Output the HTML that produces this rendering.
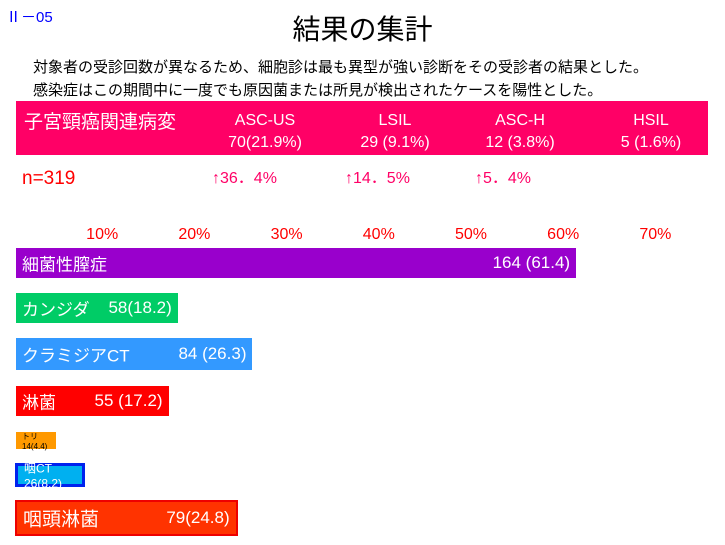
<!DOCTYPE html>
<html><head><meta charset="utf-8"><style>
body{margin:0;width:725px;height:545px;background:#fff;position:relative;overflow:hidden;font-family:"Liberation Sans","Noto Sans CJK JP",sans-serif}
.a{position:absolute;white-space:nowrap}
.bar{position:absolute;box-sizing:border-box;color:#fff}
.bar span{position:absolute;top:50%;transform:translateY(-50%)}
</style></head><body>
<div class="a" style="left:6px;top:6px;color:#0000ff;font-size:15px">Ⅱ－05</div>
<div class="a" style="left:0;width:725px;text-align:center;top:8px;font-size:28px;color:#000">結果の集計</div>
<div class="a" style="left:33px;top:56px;font-size:15px;color:#000">対象者の受診回数が異なるため、細胞診は最も異型が強い診断をその受診者の結果とした。</div>
<div class="a" style="left:33px;top:79px;font-size:15px;color:#000">感染症はこの期間中に一度でも原因菌または所見が検出されたケースを陽性とした。</div>
<div class="a" style="left:16px;top:101px;width:692px;height:54px;background:#ff0066"></div>
<div class="a" style="left:24px;top:107px;font-size:19px;color:#fff">子宮頸癌関連病変</div>
<div class="a" style="left:210px;width:110px;text-align:center;top:110px;font-size:16px;line-height:22px;color:#fff">ASC-US<br>70(21.9%)</div>
<div class="a" style="left:340px;width:110px;text-align:center;top:110px;font-size:16px;line-height:22px;color:#fff">LSIL<br>29 (9.1%)</div>
<div class="a" style="left:465px;width:110px;text-align:center;top:110px;font-size:16px;line-height:22px;color:#fff">ASC-H<br>12 (3.8%)</div>
<div class="a" style="left:596px;width:110px;text-align:center;top:110px;font-size:16px;line-height:22px;color:#fff">HSIL<br>5 (1.6%)</div>
<div class="a" style="left:22px;top:168px;font-size:19px;color:#ff0000">n=319</div>
<div class="a" style="left:212px;top:164px;font-size:16px;color:#ff0066">↑36．4%</div>
<div class="a" style="left:345px;top:164px;font-size:16px;color:#ff0066">↑14．5%</div>
<div class="a" style="left:475px;top:164px;font-size:16px;color:#ff0066">↑5．4%</div>
<div id="chart"></div>
<script>
const categories=["細菌性膣症","カンジダ","クラミジアCT","淋菌","トリ","咽CT","咽頭淋菌"];
const counts=[164,58,84,55,14,26,79];
const percents=[61.4,18.2,26.3,17.2,4.4,8.2,24.8];
const labels=["164 (61.4)","58(18.2)","84 (26.3)","55 (17.2)","14(4.4)","26(8.2)","79(24.8)"];
const tickValues=[10,20,30,40,50,60,70];
const tickLabels=["10%","20%","30%","40%","50%","60%","70%"];
const colors=["#9900cc","#00cc66","#3399ff","#ff0000","#ff9900","#00b0f0","#ff3300"];
const tops=[248,293,338,386,432,463,500],heights=[30,30,32,30,17,24,36];
const x=v=>10+v*9.22;
const c=document.getElementById('chart');
tickValues.forEach((t,i)=>{
 const d=document.createElement('div');
 
 
 d.className='a';d.style.cssText=`left:${x(t)-25}px;width:50px;text-align:center;top:226px;font-size:16px;color:#ff0000`;
 d.textContent=tickLabels[i];c.appendChild(d);
});
categories.forEach((cat,i)=>{
 const b=document.createElement('div');
 
 
 b.className='bar';
 const w=Math.max(x(percents[i])-16,40);
 let border=i==5?'3px solid #0022ee':(i==6?'2px solid #ee0000':'none');
 b.style.cssText=`left:${i>=5?15:16}px;top:${tops[i]}px;width:${w}px;height:${heights[i]}px;background:${colors[i]};border:${border}`;
 const fs=i==4?8:(i==5?12:(i==6?19:17));
 const l=document.createElement('span');l.style.cssText=`left:6px;font-size:${fs}px;color:${i==4?'#000':'#fff'}`;
 const r=document.createElement('span');r.style.cssText=`right:6px;font-size:${i==6?17:fs}px;color:${i==4?'#000':'#fff'}`;
 if(i==4||i==5){l.textContent=cat+(i==5?'  ':'')+labels[i];b.appendChild(l);}
 else{l.textContent=cat;r.textContent=labels[i];b.appendChild(l);b.appendChild(r);}
 c.appendChild(b);
});
</script>
</body></html>
